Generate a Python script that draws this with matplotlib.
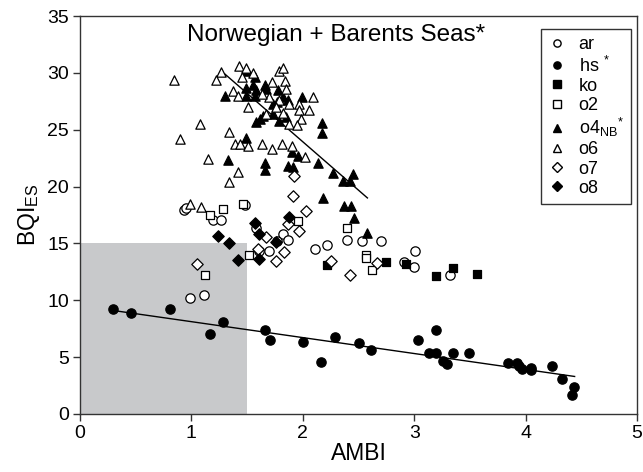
import matplotlib
matplotlib.use("Agg")
import matplotlib.pyplot as plt
from matplotlib.patches import Rectangle

plt.rcParams['font.family'] = ['Liberation Sans', 'DejaVu Sans']
plt.rcParams['mathtext.fontset'] = 'custom'
plt.rcParams['mathtext.rm'] = 'Liberation Sans'
plt.rcParams['mathtext.it'] = 'Liberation Sans:italic'
plt.rcParams['mathtext.bf'] = 'Liberation Sans:bold'

# ---------------- data ----------------
ar_x = [0.93, 0.95, 1.19, 1.27, 1.48, 0.99, 1.11, 1.58, 1.82, 1.87, 1.77, 1.70, 1.61,
        2.11, 2.22, 2.40, 2.53, 2.70, 2.91, 3.01, 3.00, 3.32]
ar_y = [17.9, 18.1, 17.1, 17.1, 18.4, 10.2, 10.5, 16.4, 15.8, 15.3, 15.2, 14.3, 14.3,
        14.5, 14.9, 15.3, 15.2, 15.2, 13.4, 14.3, 12.95, 12.2]

hs_x = [0.30, 0.46, 0.81, 1.17, 1.28, 1.66, 1.71, 2.00, 2.16, 2.29, 2.50, 2.61, 3.03,
        3.13, 3.20, 3.20, 3.26, 3.29, 3.35, 3.49, 3.84, 3.92, 3.94, 3.97, 4.05, 4.05,
        4.24, 4.33, 4.43, 4.42]
hs_y = [9.2, 8.9, 9.2, 7.0, 8.1, 7.4, 6.5, 6.35, 4.6, 6.75, 6.2, 5.65, 6.5,
        5.4, 5.4, 7.35, 4.7, 4.4, 5.35, 5.4, 4.45, 4.45, 4.2, 4.0, 4.05, 3.9,
        4.25, 3.05, 2.4, 1.7]

ko_x = [2.22, 2.75, 2.93, 3.20, 3.35, 3.56]
ko_y = [13.1, 13.4, 13.2, 12.1, 12.8, 12.3]

o2_x = [1.17, 1.28, 1.46, 1.12, 1.96, 2.40, 1.52, 2.57, 2.57, 2.62]
o2_y = [17.5, 18.0, 18.5, 12.2, 17.0, 16.4, 13.95, 14.0, 13.7, 12.7]

o4_x = [1.50, 1.57, 1.30, 1.49, 1.55, 1.58, 1.66, 1.67, 1.49, 1.57, 1.78, 1.82, 1.99,
        1.87, 1.73, 1.73, 1.64, 1.58, 1.79, 1.85, 2.17, 2.17, 1.49, 1.33, 1.66, 1.66,
        1.90, 1.96, 2.14, 1.87, 1.91, 2.27, 2.36, 2.45, 2.42, 2.18, 2.37, 2.43, 2.46,
        2.58, 1.62, 1.77]
o4_y = [30.2, 29.6, 28.0, 28.7, 28.9, 28.5, 28.9, 28.6, 28.0, 28.0, 28.5, 27.9, 27.9,
        27.6, 27.3, 26.4, 26.2, 25.7, 25.8, 26.1, 25.6, 24.7, 24.3, 22.3, 22.1, 21.5,
        23.0, 22.7, 22.1, 21.8, 21.7, 21.2, 20.5, 21.1, 20.5, 19.0, 18.3, 18.3, 17.2,
        15.9, 25.9, 27.4]

o6_x = [0.84, 1.27, 1.22, 1.43, 1.49, 1.55, 1.45, 1.79, 1.82, 1.37, 1.42, 1.72, 1.84,
        1.85, 2.09, 1.70, 1.63, 1.79, 1.88, 1.97, 1.51, 1.76, 1.97, 2.06, 1.82, 1.98,
        1.88, 1.95, 1.67, 1.08, 1.34, 0.90, 1.39, 1.44, 1.51, 1.63, 1.72, 1.81, 1.90,
        2.02, 1.15, 1.42, 1.34, 1.09, 0.99]
o6_y = [29.4, 30.1, 29.4, 30.6, 30.4, 30.0, 29.6, 30.2, 30.45, 28.4, 28.0, 29.2, 29.3,
        28.6, 27.9, 27.9, 28.1, 27.6, 27.3, 27.3, 27.0, 27.0, 26.7, 26.7, 26.5, 25.9,
        25.5, 25.4, 26.4, 25.5, 24.8, 24.2, 23.7, 23.7, 23.6, 23.7, 23.3, 23.7, 23.6,
        22.6, 22.4, 21.3, 20.4, 18.2, 18.5]

o7_x = [1.92, 1.91, 2.03, 1.05, 1.87, 1.97, 1.67, 1.60, 1.76, 1.83, 2.25, 2.42, 2.67]
o7_y = [20.9, 19.2, 17.85, 13.2, 16.7, 16.1, 15.6, 14.5, 13.45, 14.25, 13.45, 12.2, 13.3]

o8_x = [1.24, 1.34, 1.42, 1.57, 1.61, 1.88, 1.76, 1.61]
o8_y = [15.65, 15.0, 13.5, 16.8, 15.8, 17.3, 15.1, 13.6]

hs_fit_x = [0.30, 4.44]
hs_fit_y = [9.1, 3.3]
o4_fit_x = [1.30, 2.58]
o4_fit_y = [29.9, 19.0]

shade_xmax = 1.5
shade_ymax = 15

x_ticks = [0, 1, 2, 3, 4, 5]
y_ticks = [0, 5, 10, 15, 20, 25, 30, 35]

title_text = "Norwegian + Barents Seas*"

# ---------------- plot ----------------
fig = plt.figure(figsize=(6.43, 4.72), dpi=100)
ax = fig.add_axes([0.1244, 0.1229, 0.8663, 0.8432])

ax.add_patch(Rectangle((0, 0), shade_xmax, shade_ymax, facecolor='#c8c9cb',
                       edgecolor='none', zorder=0))

ax.plot(hs_fit_x, hs_fit_y, color='black', lw=1.0, zorder=1)
ax.plot(o4_fit_x, o4_fit_y, color='black', lw=1.0, zorder=1)

ms = 45
lw = 0.9
series = [
    (ar_x, ar_y, 'o', 'white', r'ar'),
    (hs_x, hs_y, 'o', 'black', r'hs $^{*}$'),
    (ko_x, ko_y, 's', 'black', r'ko'),
    (o2_x, o2_y, 's', 'white', r'o2'),
    (o4_x, o4_y, '^', 'black', r'o4$_{\mathrm{NB}}$$^{*}$'),
    (o6_x, o6_y, '^', 'white', r'o6'),
    (o7_x, o7_y, 'D', 'white', r'o7'),
    (o8_x, o8_y, 'D', 'black', r'o8'),
]
handles = []
for xs, ys, m, fc, lab in series:
    s = ms
    if m == 'D':
        s = ms * 0.75
    elif m == 's':
        s = ms * 0.85
    ax.scatter(xs, ys, marker=m, s=s, facecolor=fc, edgecolor='black',
               linewidths=lw, zorder=2)
    h, = ax.plot([], [], linestyle='none', marker=m, markersize=5.2 if m != 'D' else 4.8,
                 markerfacecolor=fc, markeredgecolor='black', markeredgewidth=1.0,
                 label=lab)
    handles.append(h)

ax.set_xlim(0, 5)
ax.set_ylim(0, 35)
ax.set_xticks(x_ticks)
ax.set_yticks(y_ticks)
ax.tick_params(direction='out', length=5, width=1, labelsize=14, color='#333333',
               top=False, right=False, pad=3)
for sp in ax.spines.values():
    sp.set_linewidth(1.0)
    sp.set_color('#333333')

ax.set_xlabel('AMBI', fontsize=16.5, labelpad=0)
ax.set_ylabel(r'BQI$_{\mathrm{ES}}$', fontsize=16.5, labelpad=4)

ax.text(2.30, 33.3, title_text, ha='center', va='center', fontsize=17.5)

leg = ax.legend(handles=handles, loc='upper right', bbox_to_anchor=(0.989, 0.967),
                borderaxespad=0, frameon=True, fancybox=False, edgecolor='black',
                fontsize=13, handlelength=1.0, handletextpad=0.7,
                labelspacing=0.12, borderpad=0.4)
leg.get_frame().set_linewidth(1.0)

fig.savefig('out.png', dpi=100)
